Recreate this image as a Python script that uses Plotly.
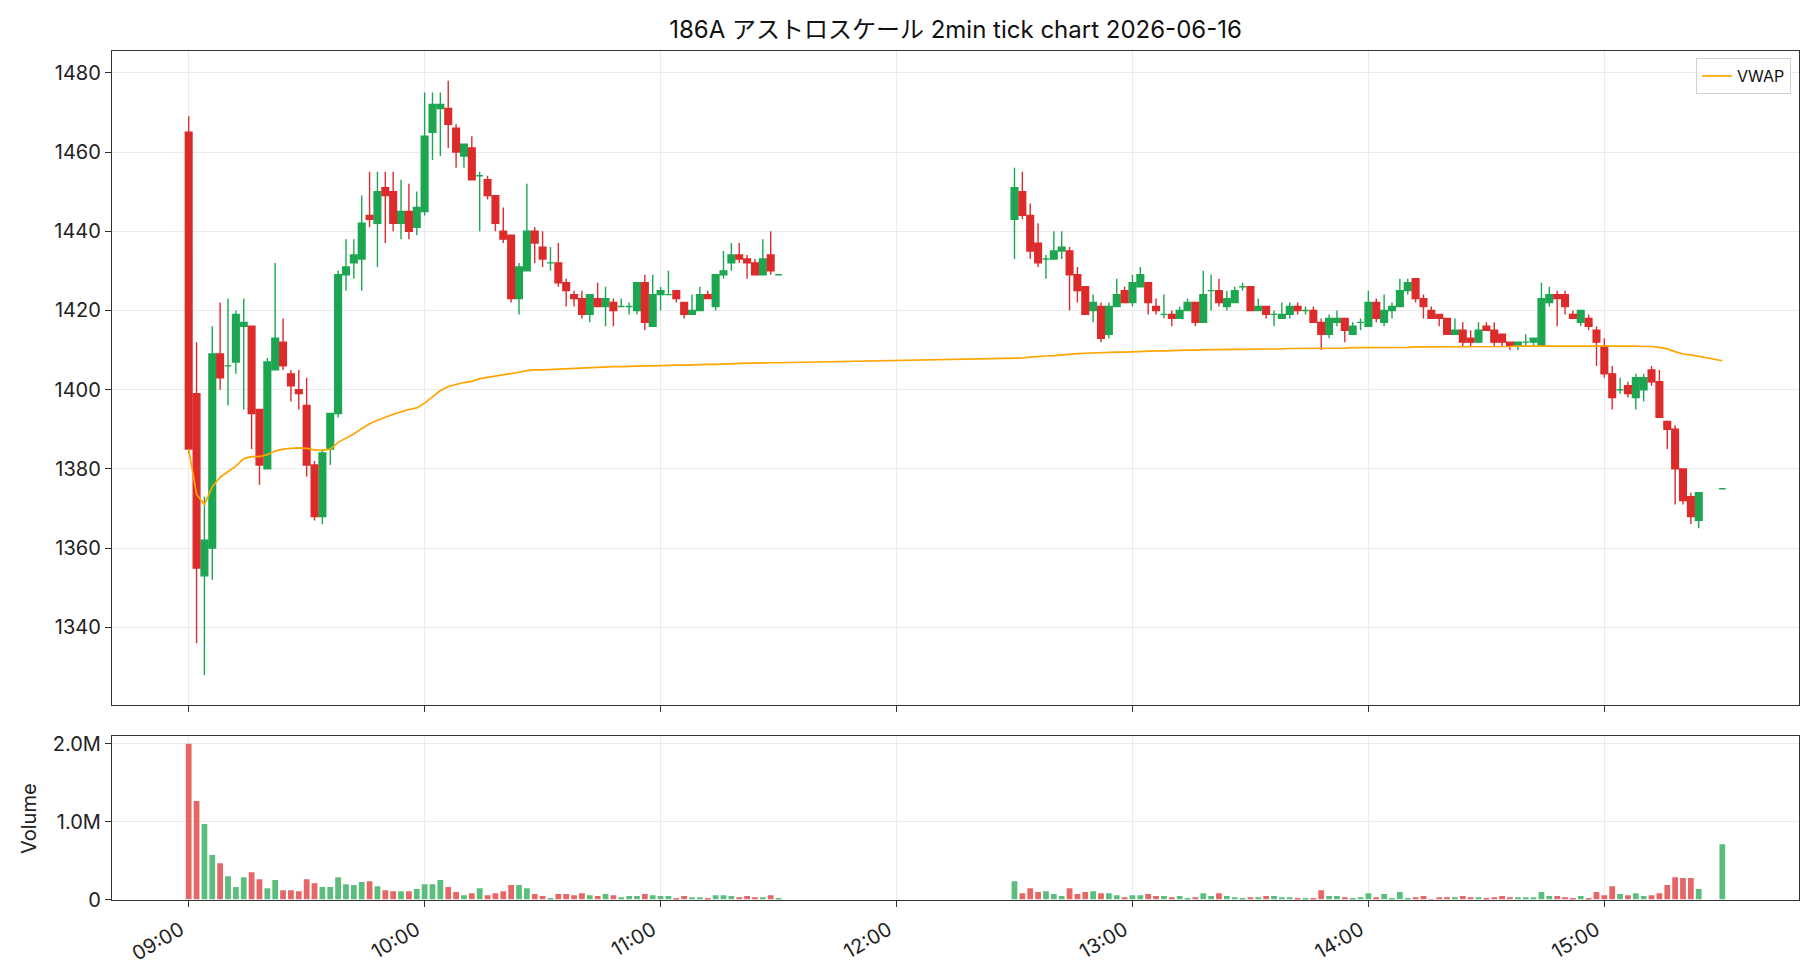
import pandas as pd
import plotly.graph_objects as go

DAY = "2026-06-16"
TITLE = "186A アストロスケール 2min tick chart 2026-06-16"
HOUR_LABELS = ["09:00", "10:00", "11:00", "12:00", "13:00", "14:00", "15:00"]
PRICE_TICKS = [1340, 1360, 1380, 1400, 1420, 1440, 1460, 1480]
VOL_TICKS = [0, 1000000, 2000000]
VOL_TICK_TEXT = ["0", "1.0M", "2.0M"]

# ---- morning session 09:00 - 11:30 (2 min bars) ----
am_times = list(pd.date_range(f"{DAY} 09:00", f"{DAY} 11:30", freq="2min"))
am_open = [1465, 1399, 1353, 1360, 1409, 1406, 1407, 1416, 1416, 1395,
           1380, 1405, 1412, 1404, 1400, 1396, 1381, 1368, 1385, 1394,
           1429, 1432, 1433, 1444, 1442, 1451, 1450, 1442, 1445, 1441,
           1445, 1465, 1471, 1471, 1466, 1459, 1461, 1454, 1453, 1449,
           1440, 1439, 1423, 1430, 1440, 1436, 1432, 1432, 1427, 1424,
           1423, 1419, 1423, 1421, 1422, 1421, 1421, 1420, 1427, 1416,
           1424, 1424, 1425, 1422, 1419, 1420, 1424, 1421, 1429, 1432,
           1434, 1433, 1432, 1429, 1434, 1429]
am_high = [1469, 1412, 1373, 1416, 1422, 1423, 1420, 1423, 1416, 1395,
           1408, 1432, 1418, 1405, 1405, 1403, 1382, 1385, 1394, 1430,
           1438, 1438, 1449, 1455, 1455, 1455, 1455, 1453, 1452, 1450,
           1475, 1475, 1475, 1478, 1467, 1462, 1464, 1455, 1454, 1449,
           1446, 1439, 1432, 1452, 1441, 1440, 1436, 1437, 1428, 1425,
           1425, 1424, 1427, 1426, 1423, 1423, 1422, 1427, 1429, 1429,
           1426, 1430, 1425, 1422, 1424, 1426, 1425, 1429, 1435, 1437,
           1437, 1434, 1433, 1438, 1440, 1429]
am_low = [1384, 1336, 1328, 1352, 1400, 1396, 1404, 1395, 1385, 1376,
          1380, 1405, 1405, 1397, 1395, 1378, 1367, 1366, 1381, 1393,
          1425, 1428, 1425, 1441, 1431, 1437, 1440, 1438, 1438, 1439,
          1444, 1458, 1459, 1461, 1456, 1456, 1453, 1440, 1448, 1440,
          1437, 1422, 1419, 1430, 1432, 1431, 1430, 1426, 1421, 1421,
          1418, 1417, 1421, 1416, 1416, 1421, 1419, 1419, 1415, 1416,
          1420, 1424, 1422, 1418, 1419, 1420, 1423, 1420, 1428, 1430,
          1432, 1428, 1429, 1429, 1429, 1429]
am_close = [1385, 1355, 1362, 1409, 1403, 1406, 1419, 1417, 1394, 1381,
            1407, 1413, 1406, 1401, 1399, 1381, 1368, 1384, 1394, 1429,
            1431, 1434, 1442, 1443, 1450, 1449, 1442, 1445, 1440, 1446,
            1464, 1472, 1472, 1467, 1460, 1462, 1453, 1454, 1449, 1442,
            1438, 1423, 1431, 1440, 1437, 1433, 1432, 1427, 1425, 1423,
            1419, 1424, 1421, 1423, 1420, 1421, 1421, 1427, 1417, 1424,
            1425, 1424, 1423, 1419, 1420, 1424, 1423, 1429, 1430, 1434,
            1433, 1432, 1429, 1433, 1430, 1429]
am_volume = [2000, 1265, 970, 570, 465, 300, 160, 285, 350, 260,
             145, 250, 120, 120, 105, 260, 210, 160, 160, 285,
             195, 185, 225, 235, 170, 120, 105, 105, 105, 135,
             195, 195, 250, 160, 95, 55, 80, 145, 55, 80,
             105, 185, 185, 145, 70, 45, 15, 70, 70, 55,
             80, 55, 45, 70, 55, 30, 45, 45, 70, 55,
             45, 45, 15, 45, 30, 30, 15, 55, 55, 45,
             30, 45, 30, 30, 55, 15]  # thousands of shares
am_vwap = [1385.0, 1373.6, 1371.0, 1375.5, 1377.9, 1379.3, 1380.7, 1382.6, 1383.1, 1383.1,
           1383.6, 1384.5, 1385.0, 1385.2, 1385.3, 1385.2, 1384.8, 1384.7, 1385.0, 1386.7,
           1387.8, 1388.8, 1390.2, 1391.4, 1392.3, 1393.1, 1393.8, 1394.4, 1395.0, 1395.4,
           1396.6, 1398.2, 1399.8, 1400.8, 1401.4, 1401.8, 1402.1, 1402.8, 1403.1, 1403.4,
           1403.7, 1404.0, 1404.4, 1404.8, 1405.0, 1405.0, 1405.1, 1405.2, 1405.3, 1405.4,
           1405.5, 1405.6, 1405.6, 1405.7, 1405.8, 1405.8, 1405.9, 1405.9, 1406.0, 1406.0,
           1406.1, 1406.1, 1406.2, 1406.2, 1406.3, 1406.3, 1406.4, 1406.4, 1406.5, 1406.6,
           1406.6, 1406.7, 1406.7, 1406.8, 1406.8, 1406.8]

# ---- afternoon session 12:30 - 15:24, plus closing auction 15:30 ----
pm_times = list(pd.date_range(f"{DAY} 12:30", f"{DAY} 15:24", freq="2min")) + [pd.Timestamp(f"{DAY} 15:30")]
pm_open = [1443, 1450, 1444, 1437, 1433, 1433, 1435, 1435, 1429, 1426,
           1420, 1421, 1414, 1421, 1425, 1422, 1426, 1427, 1421, 1419,
           1419, 1418, 1420, 1422, 1417, 1425, 1425, 1421, 1422, 1426,
           1426, 1420, 1421, 1419, 1418, 1419, 1421, 1420, 1420, 1417,
           1414, 1417, 1418, 1414, 1417, 1416, 1422, 1417, 1420, 1421,
           1425, 1428, 1423, 1420, 1419, 1418, 1414, 1415, 1413, 1412,
           1416, 1415, 1414, 1412, 1411, 1412, 1412, 1411, 1422, 1424,
           1424, 1419, 1417, 1418, 1415, 1411, 1404, 1400, 1401, 1398,
           1400, 1405, 1402, 1392, 1390, 1380, 1373, 1367, 1375]
pm_high = [1456, 1455, 1447, 1442, 1434, 1440, 1440, 1436, 1431, 1426,
           1424, 1422, 1422, 1428, 1426, 1429, 1431, 1427, 1423, 1424,
           1420, 1421, 1423, 1422, 1430, 1429, 1428, 1425, 1426, 1427,
           1426, 1423, 1421, 1420, 1422, 1422, 1422, 1421, 1421, 1418,
           1419, 1420, 1418, 1417, 1418, 1425, 1423, 1424, 1422, 1428,
           1428, 1428, 1424, 1421, 1419, 1418, 1418, 1417, 1415, 1417,
           1417, 1417, 1414, 1412, 1412, 1414, 1413, 1427, 1426, 1425,
           1425, 1420, 1420, 1419, 1416, 1413, 1406, 1403, 1402, 1404,
           1404, 1406, 1405, 1392, 1391, 1380, 1374, 1374, 1375]
pm_low = [1433, 1443, 1433, 1431, 1428, 1433, 1433, 1420, 1422, 1419,
          1417, 1412, 1413, 1421, 1422, 1421, 1426, 1419, 1419, 1418,
          1416, 1418, 1420, 1416, 1417, 1420, 1421, 1420, 1422, 1425,
          1420, 1420, 1418, 1416, 1418, 1418, 1419, 1419, 1417, 1410,
          1413, 1416, 1412, 1414, 1415, 1416, 1417, 1416, 1418, 1421,
          1424, 1422, 1418, 1418, 1416, 1414, 1414, 1411, 1411, 1412,
          1415, 1411, 1411, 1410, 1410, 1411, 1411, 1411, 1421, 1416,
          1419, 1418, 1416, 1415, 1406, 1403, 1395, 1399, 1398, 1395,
          1397, 1401, 1393, 1385, 1371, 1371, 1366, 1365, 1375]
pm_close = [1451, 1444, 1435, 1432, 1433, 1435, 1436, 1429, 1425, 1419,
            1422, 1413, 1421, 1424, 1422, 1427, 1429, 1422, 1420, 1419,
            1418, 1420, 1422, 1417, 1424, 1425, 1422, 1423, 1425, 1426,
            1420, 1421, 1419, 1419, 1419, 1421, 1420, 1420, 1417, 1414,
            1418, 1418, 1415, 1416, 1417, 1422, 1418, 1420, 1421, 1425,
            1427, 1423, 1421, 1418, 1418, 1414, 1415, 1412, 1412, 1415,
            1415, 1412, 1412, 1411, 1412, 1412, 1413, 1423, 1424, 1423,
            1421, 1418, 1420, 1416, 1412, 1404, 1398, 1400, 1399, 1403,
            1403, 1402, 1393, 1390, 1380, 1372, 1368, 1374, 1375]
pm_volume = [235, 80, 145, 95, 105, 70, 45, 145, 70, 95,
             105, 80, 80, 55, 30, 55, 55, 70, 45, 45,
             30, 45, 15, 30, 80, 45, 80, 45, 30, 15,
             30, 30, 45, 45, 30, 30, 15, 15, 15, 120,
             45, 45, 30, 15, 30, 80, 30, 70, 15, 95,
             15, 30, 45, 5, 30, 30, 30, 45, 30, 30,
             15, 30, 45, 30, 30, 30, 30, 95, 45, 45,
             30, 15, 45, 15, 95, 55, 170, 70, 55, 80,
             45, 55, 80, 185, 285, 275, 275, 135, 710]  # thousands of shares
pm_vwap = [1407.9, 1408.0, 1408.2, 1408.4, 1408.5, 1408.6, 1408.8, 1409.0, 1409.1, 1409.2,
           1409.3, 1409.4, 1409.4, 1409.5, 1409.5, 1409.6, 1409.7, 1409.7, 1409.8, 1409.8,
           1409.9, 1410.0, 1410.0, 1410.0, 1410.1, 1410.1, 1410.1, 1410.2, 1410.2, 1410.2,
           1410.2, 1410.3, 1410.3, 1410.3, 1410.3, 1410.4, 1410.4, 1410.4, 1410.4, 1410.5,
           1410.5, 1410.5, 1410.5, 1410.6, 1410.6, 1410.6, 1410.6, 1410.7, 1410.7, 1410.7,
           1410.7, 1410.8, 1410.8, 1410.8, 1410.8, 1410.8, 1410.8, 1410.8, 1410.9, 1410.9,
           1410.9, 1410.9, 1410.9, 1410.9, 1411.0, 1411.0, 1411.0, 1411.1, 1411.1, 1411.1,
           1411.1, 1411.1, 1411.1, 1411.1, 1411.1, 1411.1, 1411.0, 1411.0, 1411.0, 1411.0,
           1410.9, 1410.9, 1410.7, 1410.3, 1409.6, 1409.0, 1408.8, 1408.4, 1407.3]

times = am_times + pm_times
o = am_open + pm_open
h = am_high + pm_high
lo = am_low + pm_low
c = am_close + pm_close
vol = [v * 1000 for v in am_volume + pm_volume]
vwap = am_vwap + pm_vwap

UP = "#1da651"
DN = "#dc2b2b"
UP_V = "#5cbe7e"
DN_V = "#e56767"
FONT = "Inter, 'Noto Sans CJK JP', sans-serif"

up_idx = [i for i in range(len(times)) if c[i] >= o[i]]
dn_idx = [i for i in range(len(times)) if c[i] < o[i]]


def pick(arr, idx):
    return [arr[i] for i in idx]


fig = go.Figure()
for idx, col in ((up_idx, UP), (dn_idx, DN)):
    fig.add_trace(go.Candlestick(
        x=pick(times, idx), open=pick(o, idx), high=pick(h, idx),
        low=pick(lo, idx), close=pick(c, idx),
        increasing=dict(line=dict(color=col, width=1.4), fillcolor=col),
        decreasing=dict(line=dict(color=col, width=1.4), fillcolor=col),
        whiskerwidth=0, showlegend=False, hoverinfo="skip",
        xaxis="x", yaxis="y"))

fig.add_trace(go.Scatter(
    x=times, y=vwap, mode="lines", name="VWAP",
    line=dict(color="#FFA500", width=1.7), xaxis="x", yaxis="y"))

fig.add_trace(go.Bar(
    x=times, y=vol, width=88000,
    marker=dict(color=[UP_V if c[i] >= o[i] else DN_V for i in range(len(times))],
                line=dict(width=0)),
    showlegend=False, xaxis="x2", yaxis="y2"))

W, H = 1820, 980
XL, XR = 112 / W, 1799 / W
x_range = [f"{DAY} 08:40:30", f"{DAY} 15:49:30"]
hour_vals = [f"{DAY} {t}" for t in HOUR_LABELS]

axis_common = dict(
    showline=True, mirror=True, linecolor="#333333", linewidth=1.3,
    ticks="outside", ticklen=6, tickwidth=1.3, tickcolor="#333333",
    showgrid=True, gridcolor="#ebebeb", gridwidth=1.3, zeroline=False,
    tickfont=dict(family=FONT, size=20, color="#222222"),
)

fig.update_layout(
    width=W, height=H,
    margin=dict(l=0, r=0, t=0, b=0, autoexpand=False),
    paper_bgcolor="white", plot_bgcolor="white",
    boxgap=0.15, boxgroupgap=0,
    font=dict(family=FONT, color="#222222"),
    title=dict(text=TITLE, x=955.5 / W, xanchor="center", y=1 - 30 / H, yanchor="middle",
               font=dict(family=FONT, size=24, color="#111111")),
    xaxis=dict(domain=[XL, XR], anchor="y", type="date", range=x_range,
               tickvals=hour_vals, ticktext=HOUR_LABELS, showticklabels=False,
               rangeslider=dict(visible=False), **axis_common),
    yaxis=dict(domain=[1 - 704.6 / H, 1 - 51 / H], anchor="x", range=[1320.5, 1485.5],
               tickvals=PRICE_TICKS, **axis_common),
    xaxis2=dict(domain=[XL, XR], anchor="y2", type="date", range=x_range, matches="x",
                tickvals=hour_vals, ticktext=HOUR_LABELS, tickangle=-30,
                ticklabelshift=-8, ticklabelstandoff=4,
                rangeslider=dict(visible=False), **axis_common),
    yaxis2=dict(domain=[1 - 899.5 / H, 1 - 736 / H], anchor="x2", range=[0, 2100000],
                tickvals=VOL_TICKS, ticktext=VOL_TICK_TEXT, **axis_common),
    showlegend=True,
    legend=dict(x=1791 / W, xanchor="right", y=1 - 58 / H, yanchor="top",
                bgcolor="rgba(255,255,255,0.85)", bordercolor="#d0d0d0", borderwidth=1,
                font=dict(family=FONT, size=16, color="#111111"), itemwidth=30),
    annotations=[dict(text="Volume", x=29 / W, y=1 - 818 / H, xref="paper", yref="paper",
                      xanchor="center", yanchor="middle",
                      showarrow=False, textangle=-90,
                      font=dict(family=FONT, size=20, color="#222222"))],
)

fig.write_html("out.html")
